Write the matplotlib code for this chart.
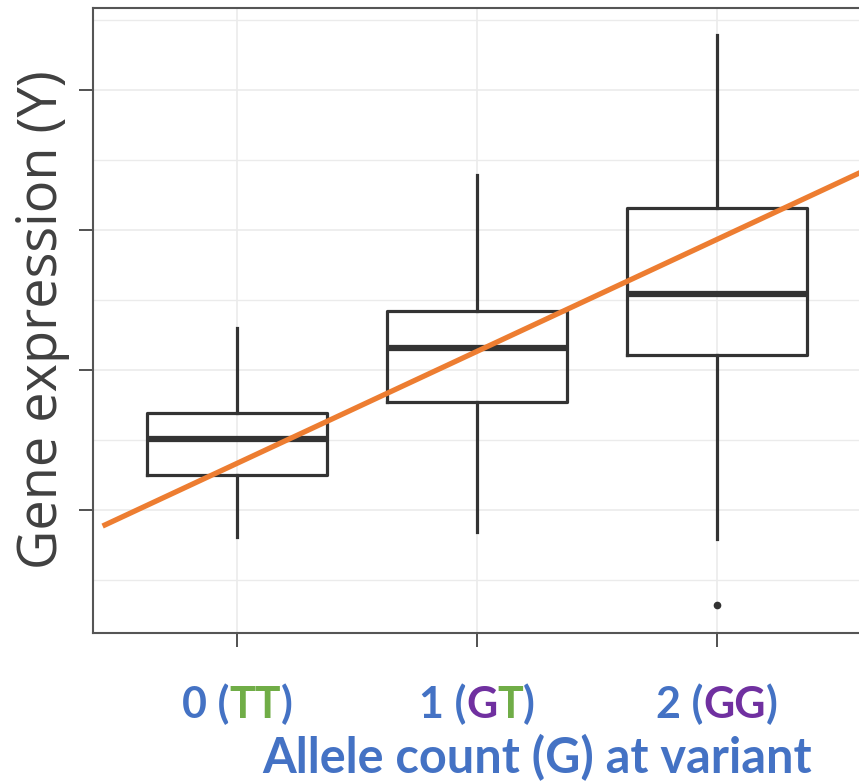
import matplotlib
matplotlib.use("Agg")
import matplotlib.pyplot as plt
from matplotlib.offsetbox import TextArea, HPacker, AnnotationBbox

# box statistics (arbitrary expression units)
groups = [0, 1, 2]
q1 = [1.25, 1.77, 2.11]
med = [1.51, 2.16, 2.54]
q3 = [1.69, 2.42, 3.16]
whislo = [0.81, 0.84, 0.79]
whishi = [2.30, 3.39, 4.39]
outliers = [[], [], [0.32]]

# fitted line
fit_x = [-0.56, 2.62]
intercept = 1.333
slope = 0.80

BLUE = "#4472C4"
GREEN = "#70AD47"
PURPLE = "#7030A0"
tick_parts = [
    [("0 (", BLUE), ("TT", GREEN), (")", BLUE)],
    [("1 (", BLUE), ("G", PURPLE), ("T", GREEN), (")", BLUE)],
    [("2 (", BLUE), ("GG", PURPLE), (")", BLUE)],
]

fig = plt.figure(figsize=(8.59, 7.82), dpi=100)
ax = fig.add_axes([93 / 859, 1 - 633 / 782, 768 / 859, 625 / 782])

stats = []
for i in range(3):
    stats.append(dict(q1=q1[i], med=med[i], q3=q3[i], whislo=whislo[i],
                      whishi=whishi[i], fliers=outliers[i]))

dark = "#333333"
ax.bxp(stats, positions=groups, widths=0.75, showcaps=False,
       boxprops=dict(color=dark, linewidth=2.3),
       medianprops=dict(color=dark, linewidth=4.5, solid_capstyle="butt"),
       whiskerprops=dict(color=dark, linewidth=2.3),
       flierprops=dict(marker="o", markersize=4.5, markerfacecolor=dark,
                       markeredgecolor=dark), zorder=3)

fit_y = [intercept + slope * x for x in fit_x]
ax.plot(fit_x, fit_y, color="#ED7D31", linewidth=3.8, zorder=4,
        solid_capstyle="butt")

ax.set_xlim(-0.6, 2.6)
ax.set_ylim(0.121, 4.586)
ax.set_xticks(groups)
ax.set_xticklabels([])
ax.set_yticks([1, 2, 3, 4])
ax.set_yticks([0.5, 1.5, 2.5, 3.5, 4.5], minor=True)
ax.set_yticklabels([])
ax.tick_params(axis="both", which="major", length=10, width=1.2, color=dark)
ax.tick_params(axis="y", which="minor", length=0)
ax.grid(True, which="major", color="#EBEBEB", linewidth=1.2, zorder=0)
ax.grid(True, which="minor", axis="y", color="#EBEBEB", linewidth=1.0, zorder=0)
ax.set_axisbelow(True)
for s in ax.spines.values():
    s.set_color("#555555")
    s.set_linewidth(1.5)

# multi-coloured tick labels
for g, parts in zip(groups, tick_parts):
    areas = [TextArea(t, textprops=dict(color=c, fontsize=31, fontweight="bold",
                                        family="Lato")) for t, c in parts]
    pack = HPacker(children=areas, pad=0, sep=0, align="baseline")
    ab = AnnotationBbox(pack, (g, 0), xycoords=("data", "axes fraction"),
                        xybox=(0, -51), boxcoords="offset points",
                        box_alignment=(0.5, 0.5), frameon=False,
                        annotation_clip=False)
    ax.add_artist(ab)

fig.text(537 / 859, 1 - 773 / 782, "Allele count (G) at variant", color=BLUE,
         fontsize=35, fontweight="bold", family="Lato", ha="center", va="baseline")
fig.text(43 / 859, 1 - 320 / 782, "Gene expression (Y)", color="#404040",
         fontsize=39, family="Open Sans", rotation=90, ha="center", va="center")

fig.savefig("out.png", dpi=100)
